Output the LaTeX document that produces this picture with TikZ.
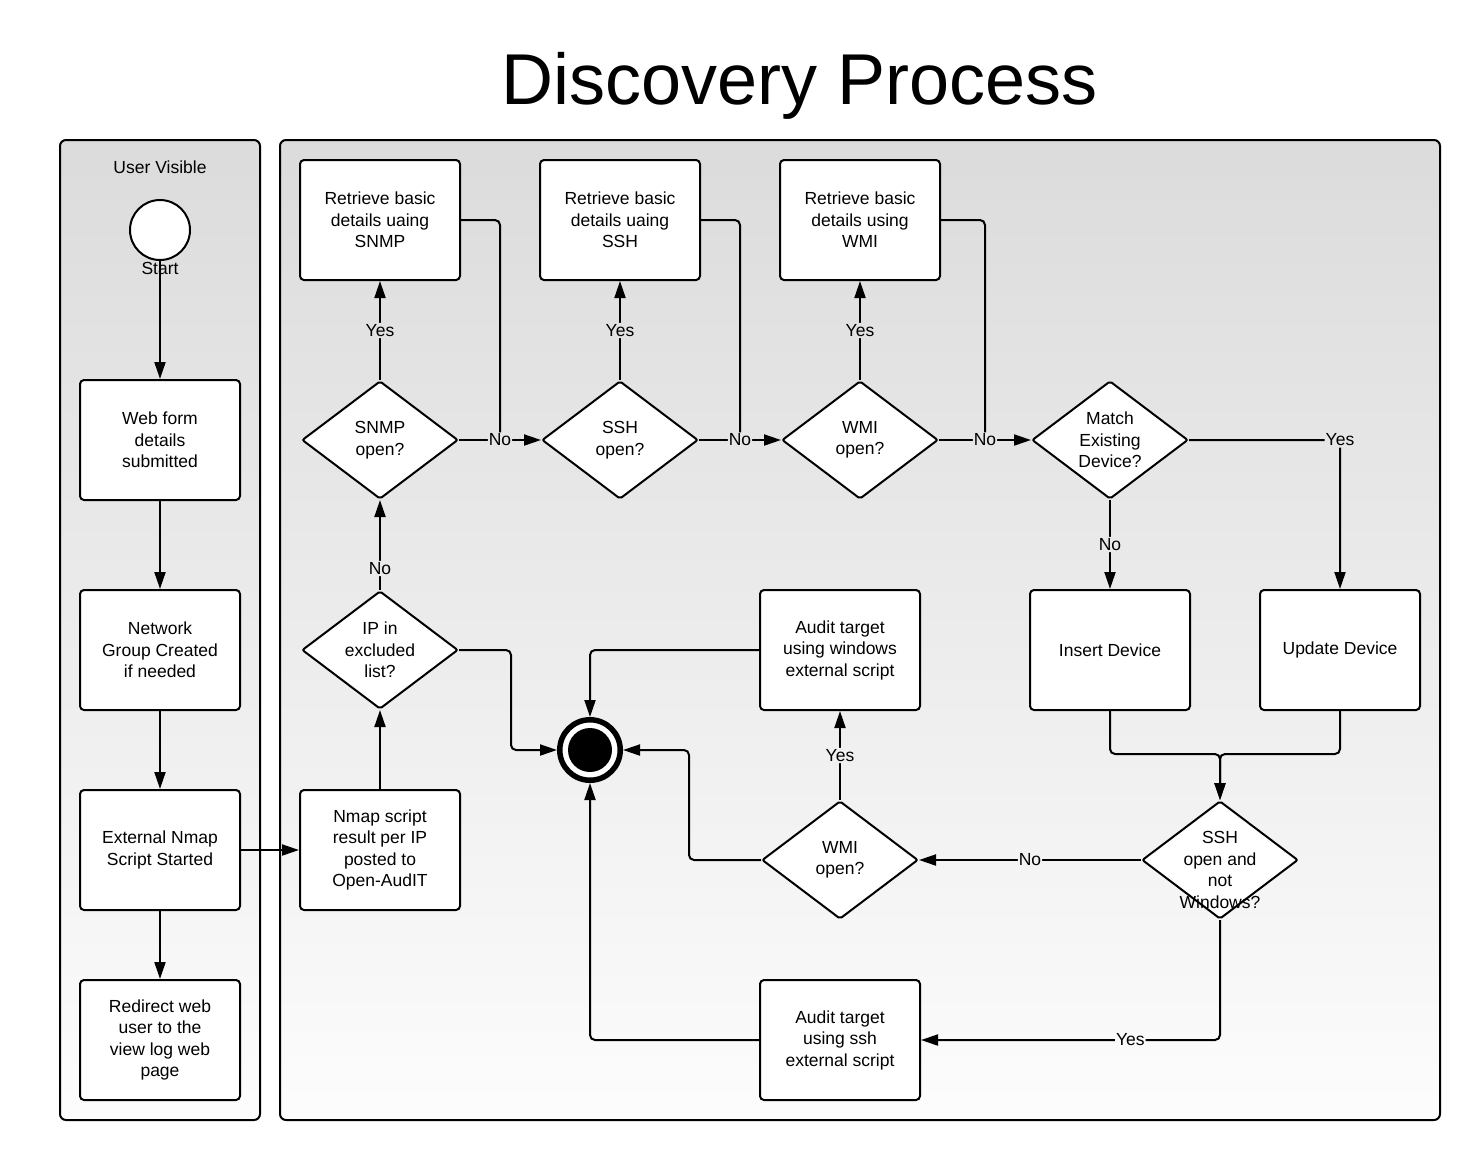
\documentclass[tikz,border=0pt]{standalone}
\usepackage{fontspec}
\setmainfont{Liberation Sans}
\usetikzlibrary{calc}
\usetikzlibrary{shapes.geometric}
\usetikzlibrary{arrows.meta}
\colorlet{border}{black}
\colorlet{lanetop}{black!14}
\colorlet{lanebottom}{black!1}
\newcommand\boxwidth{160}
\newcommand\boxheight{120}

\begin{document}
\begin{tikzpicture}[
    x=1pt, y=-1pt, line width=2pt,
    font=\fontsize{17.5}{21.5}\selectfont,
]
    \useasboundingbox (0, 0) rectangle (1480, 1160);

    \tikzset{
        lane/.style={
            draw=border, rounded corners=6,
            top color=lanetop, bottom color=lanebottom,
        },
        process/.style={
            draw=border, fill=white, rectangle,
            rounded corners=4,
            minimum width={\boxwidth pt},
            minimum height={\boxheight pt},
            inner sep=0pt, align=center,
        },
        decision/.style={
            draw=border, fill=white, diamond,
            rounded corners=2,
            minimum width=156pt, minimum height=118pt,
            inner sep=0pt,
        },
        decision text/.style={align=center, inner sep=0pt},
        state/.style={
            draw=border, fill=white, circle,
            minimum size=60pt, inner sep=0pt,
        },
        end state/.style={
            draw=border, fill=white, circle,
            line width=5.5pt, minimum size=60.5pt, inner sep=0pt,
            path picture={
                \fill[border] (path picture bounding box.center) circle (22pt);
            },
        },
        line/.style={draw=border, rounded corners=5},
        flow/.style={line, -{Triangle[length=17pt, width=11pt]}},
        lbl/.style={
            fill=lanetop!#1!lanebottom,
            inner xsep=1pt, inner ysep=1.5pt,
        },
    }

    % Title
    \node[font=\fontsize{72}{80}\selectfont] (title) at (800, 86)
        {Discovery Process};

    % Lanes
    \draw[lane] (60, 140) rectangle (260, 1120);
    \draw[lane] (280, 140) rectangle (1440, 1120);
    \node (lane-title) at (160, 167) {User Visible};

    % User visible
    \node[state] (start) at (160, 230) {};
    \node (start-text) at (160, 268) {Start};
    \node[process] (web) at (160, 440) {Web form\\details\\submitted};
    \node[process] (network) at (160, 650) {Network\\Group Created\\if needed};
    \node[process] (nmap-start) at (160, 850) {External Nmap\\Script Started};
    \node[process] (redirect) at (160, 1040)
        {Redirect web\\user to the\\view log web\\page};

    % Discovery
    \node[process] (nmap-result) at (380, 850)
        {Nmap script\\result per IP\\posted to\\Open-AudIT};
    \node[decision, label={[decision text]center:{IP in\\excluded\\list?}}]
        (ip) at (380, 650) {};
    \node[decision, label={[decision text]center:{SNMP\\open?}}]
        (snmp) at (380, 440) {};
    \node[decision, label={[decision text]center:{SSH\\open?}}]
        (ssh) at (620, 440) {};
    \node[decision, label={[decision text]center:{WMI\\open?}}]
        (wmi) at (860, 440) {};
    \node[decision, label={[decision text]center:{Match\\Existing\\Device?}}]
        (match) at (1110, 440) {};

    \node[process] (snmp-get) at (380, 220) {Retrieve basic\\details uaing\\SNMP};
    \node[process] (ssh-get) at (620, 220) {Retrieve basic\\details uaing\\SSH};
    \node[process] (wmi-get) at (860, 220) {Retrieve basic\\details using\\WMI};

    \node[process] (insert) at (1110, 650) {Insert Device};
    \node[process] (update) at (1340, 650) {Update Device};

    % Audit
    \node[decision, label={[decision text, yshift=-10pt]center:{SSH\\open and\\not\\Windows?}}]
        (ssh-check) at (1220, 860) {};
    \node[decision, label={[decision text]center:{WMI\\open?}}]
        (wmi-check) at (840, 860) {};
    \node[process] (audit-win) at (840, 650)
        {Audit target\\using windows\\external script};
    \node[process] (audit-ssh) at (840, 1040)
        {Audit target\\using ssh\\external script};
    \node[end state] (end) at (590, 750) {};

    % Left lane flow
    \draw[flow] (start) -- (web);
    \draw[flow] (web) -- (network);
    \draw[flow] (network) -- (nmap-start);
    \draw[flow] (nmap-start) -- (redirect);
    \draw[flow] (nmap-start) -- (nmap-result);

    % Checks
    \coordinate (snmp-join) at ($(snmp.east)!.5!(ssh.west)$);
    \coordinate (ssh-join) at ($(ssh.east)!.5!(wmi.west)$);
    \coordinate (wmi-join) at ($(wmi.east)!.5!(match.west)$);

    \draw[line] (snmp-get.east) -| (snmp-join);
    \draw[line] (ssh-get.east) -| (ssh-join);
    \draw[line] (wmi-get.east) -| (wmi-join);

    \draw[flow] (nmap-result) -- (ip);
    \draw[flow] (ip) -- node[lbl=56, pos=.24] {No} (snmp);
    \draw[flow] (snmp) -- node[lbl=81] {Yes} (snmp-get);
    \draw[flow] (ssh) -- node[lbl=81] {Yes} (ssh-get);
    \draw[flow] (wmi) -- node[lbl=81] {Yes} (wmi-get);
    \draw[flow] (snmp) -- node[lbl=69] {No} (ssh);
    \draw[flow] (ssh) -- node[lbl=69] {No} (wmi);
    \draw[flow] (wmi) -- node[lbl=69] {No} (match);

    \draw[flow] (match) -| node[lbl=69] {Yes} (update);
    \draw[flow] (match) -- node[lbl=59] {No} (insert);

    \coordinate (merge) at ($(ssh-check.north)+(0, -46)$);
    \draw[flow] (insert) |- (merge) -- (ssh-check);
    \draw[flow] (update) |- (merge) -- (ssh-check);

    % Audits
    \draw[flow] (ssh-check) -- node[lbl=27] {No} (wmi-check);
    \draw[flow] (wmi-check) -- node[lbl=37] {Yes} (audit-win);
    \draw[flow] (ssh-check) |- node[lbl=8, pos=.65] {Yes} (audit-ssh);

    % Finish
    \draw[flow] (audit-win) -| (end);
    \draw[flow] (ip.east) -- ++(52, 0) |- (end);
    \draw[flow] (wmi-check.west) -- ++(-72, 0) |- (end);
    \draw[flow] (audit-ssh) -| (end);
\end{tikzpicture}
\end{document}
